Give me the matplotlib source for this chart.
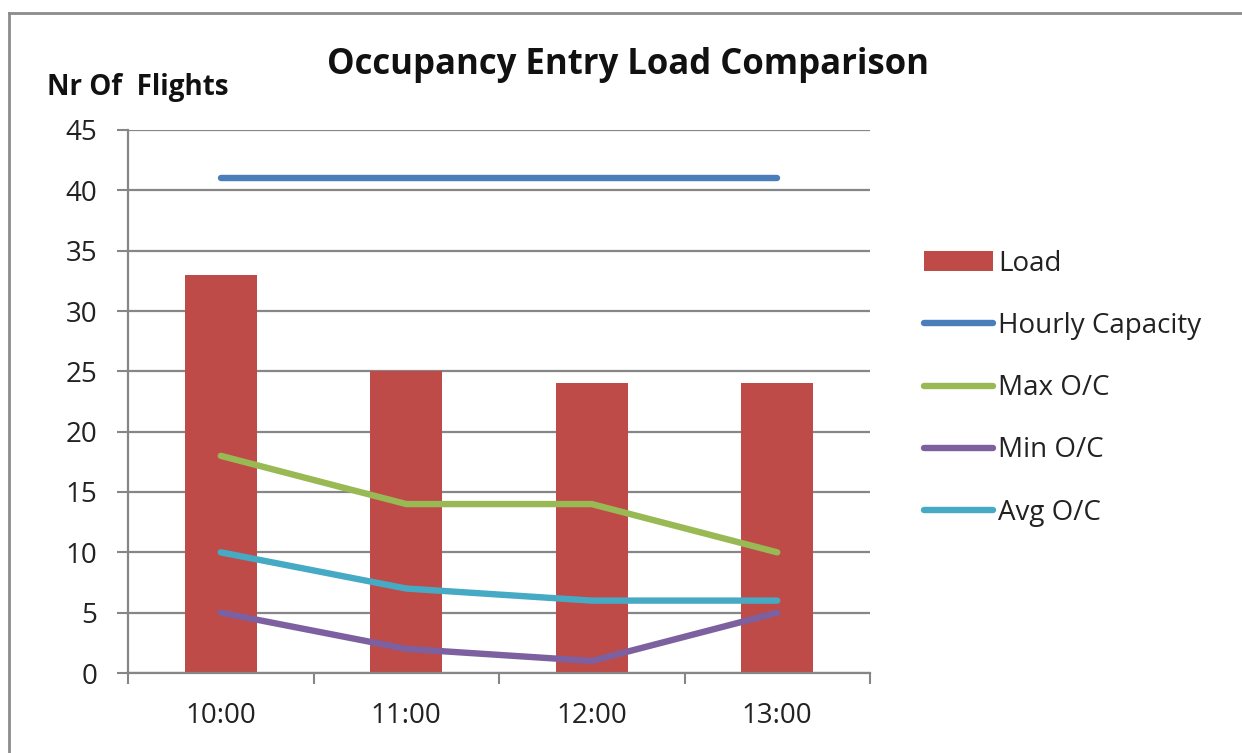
import matplotlib
matplotlib.use("Agg")
import matplotlib.pyplot as plt
from matplotlib.lines import Line2D
import numpy as np

plt.rcParams['font.family'] = ['Open Sans', 'DejaVu Sans']

hours = ["10:00", "11:00", "12:00", "13:00"]
load = [33, 25, 24, 24]
hourly_capacity = [41, 41, 41, 41]
max_oc = [18, 14, 14, 10]
min_oc = [5, 2, 1, 5]
avg_oc = [10, 7, 6, 6]
y_ticks = [0, 5, 10, 15, 20, 25, 30, 35, 40, 45]

W, H = 1242, 753
fig = plt.figure(figsize=(W / 100, H / 100), dpi=100)
fig.patch.set_facecolor("white")

# outer chart frame (left and top edges visible)
fig.add_artist(Line2D([9 / W, 9 / W], [0, 1 - 13 / H], transform=fig.transFigure,
                      color="#8c8c8c", lw=2))
fig.add_artist(Line2D([9 / W, 1], [1 - 13 / H, 1 - 13 / H], transform=fig.transFigure,
                      color="#8c8c8c", lw=2))

ax = fig.add_axes([128 / W, (H - 673) / H, 742 / W, 543 / H])
x = np.arange(len(hours))

bars = ax.bar(x, load, width=0.39, color="#BE4B48", label="Load", zorder=2, linewidth=0)
line_kw = dict(lw=4.6, solid_capstyle="round", solid_joinstyle="round", zorder=3)
l_cap, = ax.plot(x, hourly_capacity, color="#4A7EBB", label="Hourly Capacity", **line_kw)
l_max, = ax.plot(x, max_oc, color="#98B954", label="Max O/C", **line_kw)
l_min, = ax.plot(x, min_oc, color="#7D60A0", label="Min O/C", **line_kw)
l_avg, = ax.plot(x, avg_oc, color="#46AAC5", label="Avg O/C", **line_kw)

ax.set_xlim(-0.5, len(hours) - 0.5)
ax.set_ylim(0, 45)
ax.set_yticks(y_ticks)
ax.set_yticklabels([str(v) for v in y_ticks], fontsize=20, color="#222222")
ax.set_xticks(x)
ax.set_xticklabels(hours, fontsize=20, color="#222222")
ax.set_xticks(np.arange(len(hours) + 1) - 0.5, minor=True)
ax.tick_params(axis="x", which="major", length=0, pad=21)
ax.tick_params(axis="x", which="minor", length=8, width=1.5, color="#868686", direction="out")
ax.tick_params(axis="y", length=8, width=1.5, color="#868686", direction="out", pad=14)

ax.grid(axis="y", color="#868686", lw=1.6, zorder=1)
ax.set_axisbelow(True)
for side in ("top", "right"):
    ax.spines[side].set_visible(False)
for side in ("left", "bottom"):
    ax.spines[side].set_color("#868686")
    ax.spines[side].set_linewidth(1.6)

fig.text(628 / W, 1 - 65 / H, "Occupancy Entry Load Comparison", ha="center", va="center",
         fontsize=25, fontweight="bold", color="#111111")
fig.text(47 / W, 1 - 88 / H, "Nr Of  Flights", ha="left", va="center",
         fontsize=20, fontweight="bold", color="#111111")

leg = fig.legend(handles=[bars, l_cap, l_max, l_min, l_avg],
                 loc="upper left", bbox_to_anchor=(910 / W, 1 - 236 / H),
                 frameon=False, fontsize=20, handlelength=2.5, handletextpad=0.18,
                 labelspacing=1.23, borderpad=0)
for t in leg.get_texts():
    t.set_color("#222222")

fig.savefig("out.png", dpi=100)
